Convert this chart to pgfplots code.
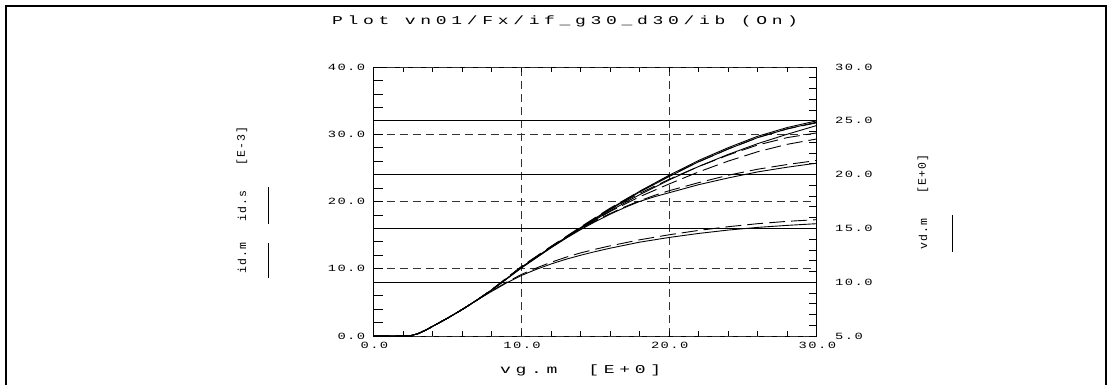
\documentclass[border=0pt]{standalone}
\usepackage{fontspec}
\usepackage{pgfplots}
\pgfplotsset{compat=1.18}
\newfontfamily\tickfontfam{Liberation Mono}[FakeStretch=1.45, LetterSpace=15]
\newfontfamily\titlefontfam{Liberation Mono}[FakeStretch=1.5, LetterSpace=39]
\newfontfamily\sidefontfam{Liberation Mono}[LetterSpace=8]
\newcommand\tickf{\tickfontfam\fontsize{9.5pt}{9.5pt}\selectfont}
\newcommand\titlef{\titlefontfam\fontsize{12pt}{12pt}\selectfont}
\newcommand\sidef{\sidefontfam\fontsize{11.5pt}{11.5pt}\selectfont}
\pgfplotsset{
  myaxis/.style={at={(0pt,0pt)}, anchor=south west, width=443pt, height=269pt, scale only axis,
    xmin=0, xmax=30, tick align=inside,
    axis line style={line width=0.9pt}, tick style={line width=0.8pt, black},
    major grid style={dash pattern=on 8pt off 5pt, line width=0.7pt, black!80}},
  meas/.style={black, line width=0.9pt, solid, no markers},
  sim/.style={black, line width=0.9pt, dash pattern=on 16pt off 6pt, no markers},
}
\begin{document}
\begin{tikzpicture}
\begin{scope}[x=1pt,y=1pt,shift={(-373.7,336)}]
\path (0,0) rectangle (1113,-385);
\draw[line width=2pt] (6,-385) -- (6,-6) -- (1106,-6) -- (1106,-385);
\node[anchor=west, font=\titlef, inner sep=0pt] at (332,-21) {Plot vn01/Fx/if\_g30\_d30/ib (On)};
\node[font=\titlef, anchor=west, inner sep=0pt] at (500,-370) {vg.m\ \ [E+0]};
\node[rotate=90, font=\sidef] at (242,-258) {id.m};
\node[rotate=90, font=\sidef] at (242,-206) {id.s};
\node[rotate=90, font=\sidef] at (242,-146) {[E-3]};
\draw[line width=0.9pt] (268,-243) -- (268,-278);
\draw[line width=0.9pt] (268,-187) -- (268,-224);
\node[rotate=90, font=\sidef] at (923,-234) {vd.m};
\node[rotate=90, font=\sidef] at (923,-174) {[E+0]};
\draw[line width=0.9pt] (952,-215) -- (952,-252);
\end{scope}
% axis 1: box, x ticks, x grid
\begin{axis}[myaxis, ymin=0, ymax=40,
  xtick={0,10,20,30}, xticklabels={0.0,10.0,20.0,30.0}, minor x tick num=4,
  ytick=\empty, major tick length=5pt, minor tick length=5pt,
  xmajorgrids,
  xticklabel style={font=\tickf, xshift=0.7pt, yshift=-3pt}]
\end{axis}
% axis 2: left y, id curves
\begin{axis}[myaxis, ymin=0, ymax=40, axis x line=none, axis y line*=left,
  ytick={0,10,20,30,40}, yticklabels={0.0,10.0,20.0,30.0,40.0}, minor y tick num=4,
  major tick length=9pt, minor tick length=9pt,
  ymajorgrids,
  yticklabel style={font=\tickf, xshift=-5pt}]
% vd=10 measured / simulated
\addplot[meas] coordinates {(0,0)(2,0)(2.5,0.05)(3,0.35)(3.5,0.85)(4,1.45)(5,2.65)(6,3.95)(7,5.35)(8,6.65)(9,7.9)(10,9.0)(11,9.9)(12,10.7)(13,11.4)(14,12.0)(15,12.55)(16,13.05)(18,13.95)(20,14.65)(22,15.25)(24,15.75)(26,16.15)(28,16.45)(30,16.7)};
\addplot[sim] coordinates {(0,0)(2,0)(2.5,0.05)(3,0.35)(3.5,0.85)(4,1.45)(5,2.65)(6,3.95)(7,5.35)(8,6.7)(9,8.0)(10,9.15)(11,10.1)(12,10.95)(13,11.7)(14,12.35)(15,12.9)(16,13.4)(18,14.3)(20,15.05)(22,15.7)(24,16.25)(26,16.7)(28,17.05)(30,17.3)};
% vd=15
\addplot[meas] coordinates {(0,0)(2,0)(2.5,0.05)(3,0.35)(3.5,0.85)(4,1.45)(5,2.65)(6,3.95)(7,5.35)(8,6.85)(9,8.5)(10,10.1)(12,13.1)(13,14.5)(14,15.8)(15,17.0)(16,18.1)(17,19.1)(18,20.0)(19,20.7)(20,21.3)(22,22.5)(24,23.5)(26,24.4)(28,25.1)(30,25.7)};
\addplot[sim] coordinates {(0,0)(2,0)(2.5,0.05)(3,0.35)(3.5,0.85)(4,1.45)(5,2.65)(6,3.95)(7,5.35)(8,6.85)(9,8.5)(10,10.2)(12,13.2)(13,14.6)(14,15.9)(15,17.1)(16,18.2)(17,19.2)(18,20.1)(19,20.9)(20,21.6)(22,22.8)(24,23.9)(26,24.8)(28,25.5)(30,26.1)};
% vd=20
\addplot[meas] coordinates {(0,0)(2,0)(2.5,0.05)(3,0.35)(3.5,0.85)(4,1.45)(5,2.65)(6,3.95)(7,5.35)(8,6.85)(9,8.5)(10,10.2)(12,13.15)(14,15.95)(16,18.6)(18,21.0)(20,23.2)(22,25.2)(24,27.0)(26,28.6)(28,30.0)(30,31.3)};
\addplot[sim] coordinates {(0,0)(2,0)(2.5,0.05)(3,0.35)(3.5,0.85)(4,1.45)(5,2.65)(6,3.95)(7,5.35)(8,6.9)(9,8.6)(10,10.3)(12,13.25)(14,16.0)(16,18.5)(18,20.7)(20,22.6)(22,24.4)(24,26.0)(26,27.4)(28,28.5)(30,29.3)};
% vd=25
\addplot[meas] coordinates {(0,0)(2,0)(2.5,0.05)(3,0.35)(3.5,0.85)(4,1.45)(5,2.65)(6,3.95)(7,5.35)(8,6.85)(9,8.5)(10,10.2)(12,13.2)(14,16.0)(16,18.8)(18,21.4)(20,23.7)(22,25.9)(24,27.8)(26,29.5)(28,30.8)(30,31.8)};
\addplot[sim] coordinates {(0,0)(2,0)(2.5,0.05)(3,0.35)(3.5,0.85)(4,1.45)(5,2.65)(6,3.95)(7,5.35)(8,6.9)(9,8.6)(10,10.3)(12,13.3)(14,16.1)(16,18.8)(18,21.2)(20,23.3)(22,25.2)(24,26.9)(26,28.4)(28,29.5)(30,30.2)};
% vd=30
\addplot[meas] coordinates {(0,0)(2,0)(2.5,0.05)(3,0.35)(3.5,0.85)(4,1.45)(5,2.65)(6,3.95)(7,5.35)(8,6.85)(9,8.5)(10,10.2)(12,13.2)(14,16.1)(16,18.9)(18,21.5)(20,23.9)(22,26.1)(24,28.0)(26,29.7)(28,31.0)(30,32.0)};
\addplot[sim] coordinates {(0,0)(2,0)(2.5,0.05)(3,0.35)(3.5,0.85)(4,1.45)(5,2.65)(6,3.95)(7,5.35)(8,6.9)(9,8.6)(10,10.3)(12,13.3)(14,16.2)(16,19.0)(18,21.5)(20,23.8)(22,25.9)(24,27.8)(26,29.5)(28,30.8)(30,31.7)};
\end{axis}
% axis 3: right y, vd lines
\begin{axis}[myaxis, ymin=5, ymax=30, axis x line=none, axis y line*=right,
  ytick={5,10,15,20,25,30}, yticklabels={5.0,10.0,15.0,20.0,25.0,30.0}, minor y tick num=4,
  major tick length=8pt, minor tick length=8pt,
  yticklabel style={font=\tickf, anchor=west, xshift=15pt}]
\addplot[meas] coordinates {(0,10)(30,10)};
\addplot[meas] coordinates {(0,15)(30,15)};
\addplot[meas] coordinates {(0,20)(30,20)};
\addplot[meas] coordinates {(0,25)(30,25)};
\end{axis}
\end{tikzpicture}
\end{document}
